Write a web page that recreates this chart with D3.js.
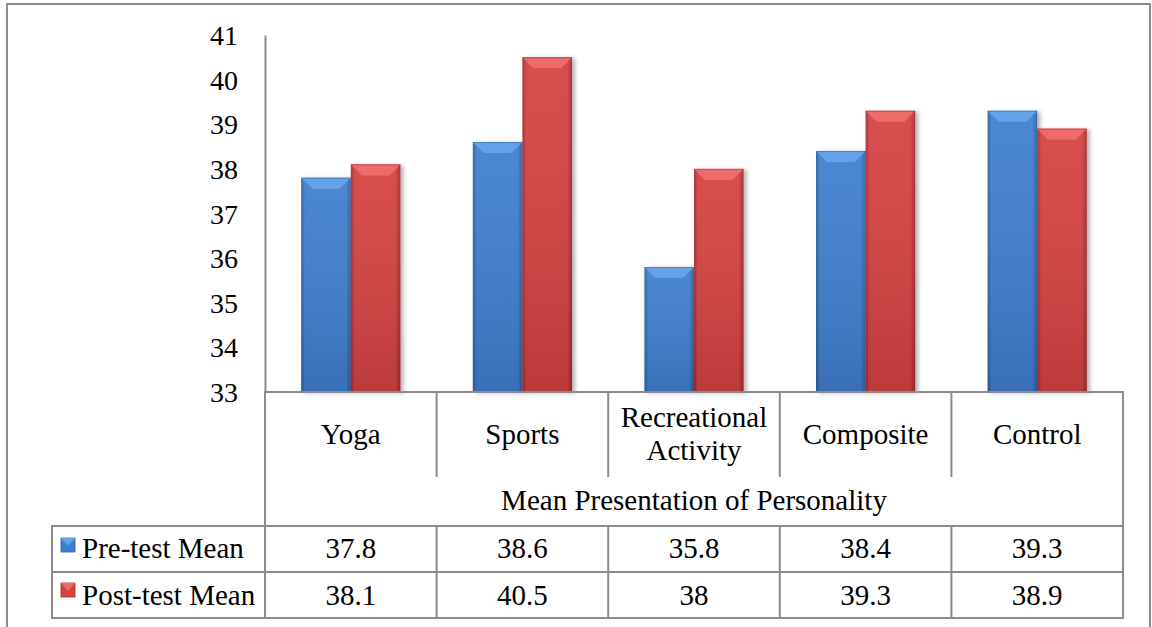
<!DOCTYPE html>
<html><head><meta charset="utf-8">
<script src="https://cdn.jsdelivr.net/npm/d3@7"></script>
<style>
html,body{margin:0;padding:0;background:#fff;}
svg text{font-family:"Liberation Serif","Times New Roman",serif;fill:#000;}
</style></head>
<body>
<svg id="chart" width="1152" height="627"></svg>
<script>
const categories = ["Yoga", "Sports", "Recreational Activity", "Composite", "Control"];
const categoryLines = [["Yoga"], ["Sports"], ["Recreational", "Activity"], ["Composite"], ["Control"]];
const seriesNames = ["Pre-test Mean", "Post-test Mean"];
const preValues = [37.8, 38.6, 35.8, 38.4, 39.3];
const postValues = [38.1, 40.5, 38, 39.3, 38.9];
const preLabels = ["37.8", "38.6", "35.8", "38.4", "39.3"];
const postLabels = ["38.1", "40.5", "38", "39.3", "38.9"];
const yTicks = [33, 34, 35, 36, 37, 38, 39, 40, 41];
const axisTitle = "Mean Presentation of Personality";

const svg = d3.select("#chart");
const gray = "#8c8c8c";
const FF = '"Liberation Serif","Times New Roman",serif';
const FS = 29, TFS = 28;
const L = 265, R = 1123, T = 35, B = 392;
const rowTitleTop = 477, row1 = 526, row2 = 572, row3 = 618, legendLeft = 52;

const seriesColors = [
  {main:"#3f7fd0", top:"#66a2ea", dark:"#2c5fa3"},
  {main:"#d64242", top:"#ee6b6b", dark:"#a22a2a"}
];

const defs = svg.append("defs");
seriesColors.forEach((c,i)=>{
  const g = defs.append("linearGradient").attr("id","hg"+i).attr("x1","0").attr("x2","1").attr("y1","0").attr("y2","0");
  g.append("stop").attr("offset","0").attr("stop-color",c.dark);
  g.append("stop").attr("offset","0.08").attr("stop-color",c.main);
  g.append("stop").attr("offset","0.9").attr("stop-color",c.main);
  g.append("stop").attr("offset","1").attr("stop-color",c.dark);
  const v = defs.append("linearGradient").attr("id","vg"+i).attr("x1","0").attr("x2","0").attr("y1","0").attr("y2","1");
  v.append("stop").attr("offset","0").attr("stop-color","#fff").attr("stop-opacity",0.06);
  v.append("stop").attr("offset","1").attr("stop-color","#000").attr("stop-opacity",0.12);
});
const f = defs.append("filter").attr("id","sh").attr("x","-20%").attr("y","-5%").attr("width","150%").attr("height","115%");
f.append("feDropShadow").attr("dx",3).attr("dy",1).attr("stdDeviation",2).attr("flood-color","#000").attr("flood-opacity",0.3);

// outer border
svg.append("rect").attr("x",7).attr("y",4).attr("width",1143).attr("height",660)
  .attr("fill","none").attr("stroke",gray).attr("stroke-width",2);

const y = d3.scaleLinear().domain([33,41]).range([B,T]);
const x0 = d3.scaleBand().domain(categories).range([L,R]).padding(0);
const x1 = d3.scaleBand().domain(seriesNames).range([0,x0.bandwidth()]).paddingInner(0).paddingOuter(0.73);

// y axis
const yAxis = d3.axisLeft(y).tickValues(yTicks).tickSize(0).tickPadding(27).tickFormat(d3.format("d"));
const ya = svg.append("g").attr("transform",`translate(${L},0)`).call(yAxis);
ya.select(".domain").attr("stroke",gray).attr("stroke-width",2);
ya.selectAll("text").style("font-family",FF).style("font-size",TFS+"px").attr("dy","0.34em").attr("fill","#000");

// bars
const data = categories.map((c,i)=>({cat:c, vals:[preValues[i], postValues[i]]}));
const groups = svg.append("g").selectAll("g").data(data).join("g")
  .attr("transform",d=>`translate(${x0(d.cat)},0)`);
groups.each(function(d){
  const g = d3.select(this);
  d.vals.forEach((v,si)=>{
    const bx = x1(seriesNames[si]), bw = x1.bandwidth(), by = y(v), bh = B - y(v);
    const c = seriesColors[si];
    const bg = g.append("g");
    bg.append("rect").attr("x",bx).attr("y",by).attr("width",bw).attr("height",bh)
      .attr("fill",`url(#hg${si})`).attr("filter","url(#sh)");
    bg.append("rect").attr("x",bx).attr("y",by).attr("width",bw).attr("height",bh)
      .attr("fill",`url(#vg${si})`);
    const bv = 11;
    bg.append("polygon").attr("points",[[bx,by],[bx+bw,by],[bx+bw-bv,by+bv],[bx+bv,by+bv]].map(p=>p.join(",")).join(" "))
      .attr("fill",c.top);
    bg.append("line").attr("x1",bx).attr("x2",bx+bw).attr("y1",by+0.5).attr("y2",by+0.5).attr("stroke",c.dark).attr("stroke-width",1).attr("opacity",0.5);
  });
});

// x axis baseline / table
const lines = svg.append("g").attr("stroke",gray).attr("stroke-width",2).attr("fill","none");
function hl(xa,xb,yy){lines.append("line").attr("x1",xa).attr("x2",xb).attr("y1",yy).attr("y2",yy);}
function vl(xx,ya_,yb){lines.append("line").attr("x1",xx).attr("x2",xx).attr("y1",ya_).attr("y2",yb);}
hl(L-1,R+1,B);
hl(legendLeft-1,R+1,row1);
hl(legendLeft-1,R+1,row2);
hl(legendLeft-1,R+1,row3);
vl(L,B,row3);
vl(R,B,row3);
vl(legendLeft,row1,row3);
categories.slice(1).forEach(c=>{ vl(x0(c),B,rowTitleTop); vl(x0(c),row1,row3); });

function txt(sel){ return sel.style("font-family",FF).style("font-size",FS+"px").attr("fill","#000"); }

// category labels
categories.forEach((c,i)=>{
  const cx = x0(c) + x0.bandwidth()/2;
  const ls = categoryLines[i];
  const t = txt(svg.append("text").attr("text-anchor","middle"));
  if(ls.length===1){
    t.append("tspan").attr("x",cx).attr("y",444).text(ls[0]);
  } else {
    t.append("tspan").attr("x",cx).attr("y",427).text(ls[0]);
    t.append("tspan").attr("x",cx).attr("y",460).text(ls[1]);
  }
});
txt(svg.append("text").attr("x",(L+R)/2).attr("y",510).attr("text-anchor","middle")).text(axisTitle);

// data table values
const rowsY = [558, 605];
[preLabels, postLabels].forEach((labs,si)=>{
  categories.forEach((c,i)=>{
    txt(svg.append("text").attr("x",x0(c)+x0.bandwidth()/2).attr("y",rowsY[si]).attr("text-anchor","middle")).text(labs[i]);
  });
  const ky = [538, 583][si];
  const c = seriesColors[si];
  const k = 14;
  svg.append("rect").attr("x",61).attr("y",ky).attr("width",k).attr("height",k).attr("fill",c.main).attr("stroke",c.dark).attr("stroke-width",0.8);
  svg.append("polygon").attr("points",[[61,ky],[61+k,ky],[61+k/2,ky+k*0.55]].map(p=>p.join(",")).join(" ")).attr("fill",c.top);
  txt(svg.append("text").attr("x",82).attr("y",rowsY[si])).text(seriesNames[si]);
});
</script>
</body></html>
